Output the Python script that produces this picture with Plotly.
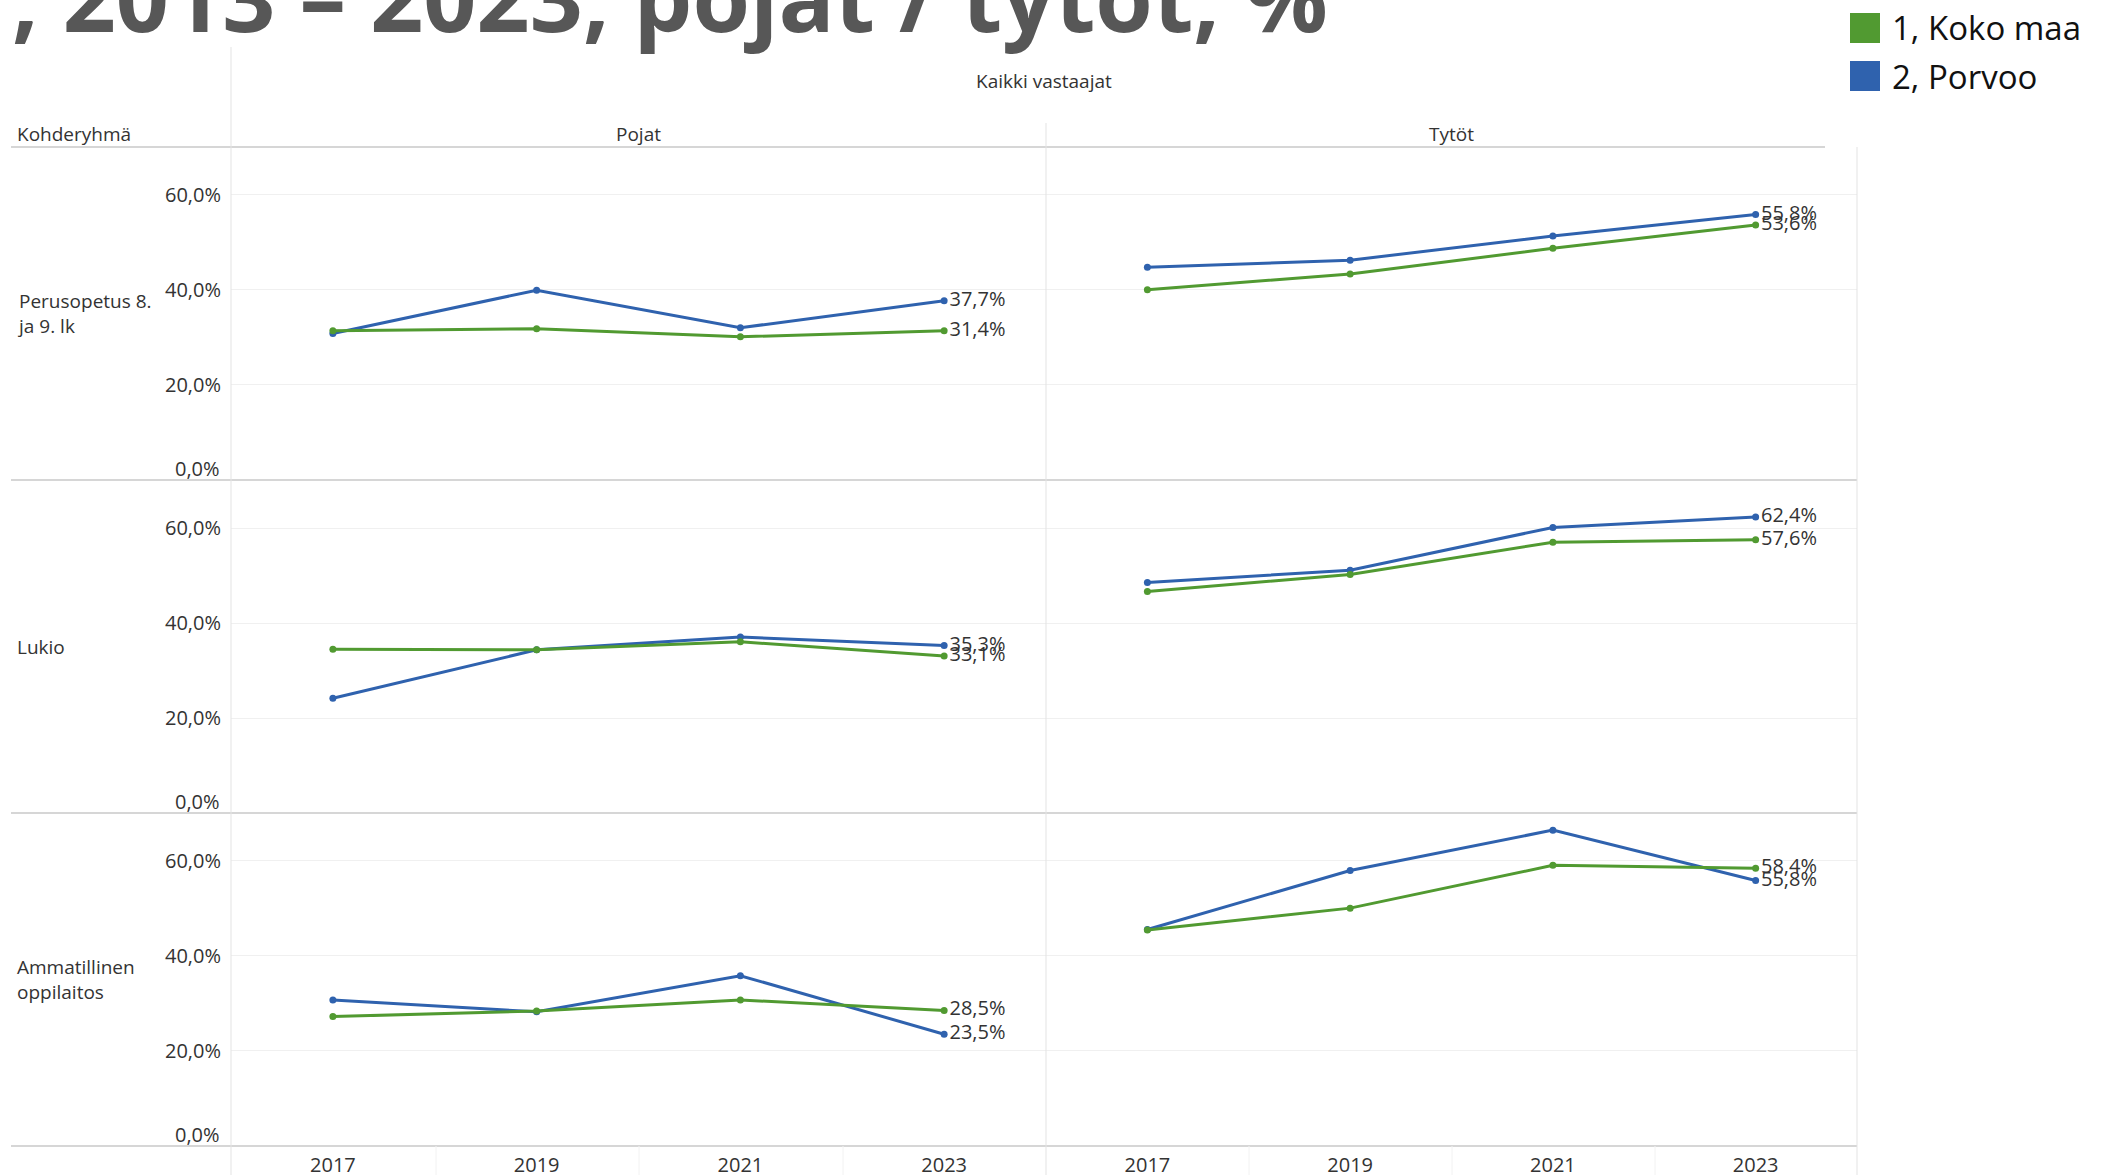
import plotly.graph_objects as go

W, H = 2108, 1175

years = ["2017", "2019", "2021", "2023"]
groups = ["Perusopetus 8.<br>ja 9. lk", "Lukio", "Ammatillinen<br>oppilaitos"]
genders = ["Pojat", "Tytöt"]
series_names = ["1, Koko maa", "2, Porvoo"]
y_ticks = [20, 40, 60]

# 1, Koko maa
koko_perus_pojat = [31.4, 31.8, 30.1, 31.4]
koko_perus_tytot = [40.0, 43.3, 48.7, 53.6]
koko_lukio_pojat = [34.5, 34.4, 36.1, 33.1]
koko_lukio_tytot = [46.7, 50.3, 57.1, 57.6]
koko_amm_pojat = [27.2, 28.4, 30.7, 28.5]
koko_amm_tytot = [45.4, 50.0, 59.0, 58.4]

# 2, Porvoo
porvoo_perus_pojat = [30.8, 39.9, 32.0, 37.7]
porvoo_perus_tytot = [44.7, 46.2, 51.3, 55.8]
porvoo_lukio_pojat = [24.2, 34.4, 37.1, 35.3]
porvoo_lukio_tytot = [48.6, 51.2, 60.2, 62.4]
porvoo_amm_pojat = [30.7, 28.2, 35.8, 23.5]
porvoo_amm_tytot = [45.5, 57.9, 66.4, 55.8]

koko = [[koko_perus_pojat, koko_perus_tytot],
        [koko_lukio_pojat, koko_lukio_tytot],
        [koko_amm_pojat, koko_amm_tytot]]
porvoo = [[porvoo_perus_pojat, porvoo_perus_tytot],
          [porvoo_lukio_pojat, porvoo_lukio_tytot],
          [porvoo_amm_pojat, porvoo_amm_tytot]]

GREEN = "#519a31"
BLUE = "#2f62ae"
FONT = "Open Sans"
TXT = "#333333"


def px(x):
    return x / W


def py(y):
    return 1 - y / H


def pct(v):
    return f"{v:.1f}%".replace(".", ",")


# panel geometry in pixels
col_edges = [(231, 1046), (1046, 1857)]
row_edges = [(147, 480), (481, 813), (813, 1146)]

fig = go.Figure()
layout = {}
annotations = []
shapes = []

for r in range(3):
    for c in range(2):
        i = r * 2 + c + 1
        xa = "x" if i == 1 else f"x{i}"
        ya = "y" if i == 1 else f"y{i}"
        # blue first so green is drawn on top
        for vals, color in [(porvoo[r][c], BLUE), (koko[r][c], GREEN)]:
            fig.add_trace(go.Scatter(
                x=years, y=vals, xaxis=xa, yaxis=ya,
                mode="lines+markers+text",
                line=dict(color=color, width=3),
                marker=dict(color=color, size=7),
                text=["", "", "", pct(vals[-1])],
                textposition="middle right",
                textfont=dict(family=FONT, size=20, color=TXT),
                cliponaxis=False, showlegend=False,
                hoverinfo="x+y",
            ))
        x0, x1 = col_edges[c]
        y0, y1 = row_edges[r]
        layout[f"xaxis{i}"] = dict(
            domain=[px(x0), px(x1)], anchor=ya, type="category",
            range=[-0.5, 3.5], showgrid=False, zeroline=False,
            showline=False, showticklabels=(r == 2), ticks="",
            ticklabelstandoff=5, automargin=False,
            tickfont=dict(family=FONT, size=20, color=TXT),
        )
        layout[f"yaxis{i}"] = dict(
            domain=[py(y1), py(y0)], anchor=xa, range=[0, 70],
            tickvals=y_ticks, ticktext=[pct(v) for v in y_ticks],
            showticklabels=(c == 0), ticks="", ticklabelstandoff=9,
            automargin=False,
            showgrid=True, gridcolor="#f0f0f0", gridwidth=1,
            zeroline=False, showline=False,
            tickfont=dict(family=FONT, size=20, color=TXT),
        )
        if c == 0:
            annotations.append(dict(
                text=pct(0), xref=f"{xa} domain", x=0, xanchor="right",
                xshift=-9, yref=ya, y=0, yanchor="bottom", yshift=-4,
                showarrow=False, font=dict(family=FONT, size=20, color=TXT),
            ))
    annotations.append(dict(
        text=groups[r], xref="paper", x=px(15), xanchor="left",
        yref="paper", y=py((row_edges[r][0] + row_edges[r][1]) / 2),
        yanchor="middle", align="left", showarrow=False,
        font=dict(family=FONT, size=19, color=TXT),
    ))

# header texts
annotations += [
    dict(text="Kaikki vastaajat", x=px(1044), y=py(81)),
    dict(text=genders[0], x=px(638), y=py(134)),
    dict(text=genders[1], x=px(1451), y=py(134)),
    dict(text="Kohderyhmä", x=px(15), y=py(134), xanchor="left"),
]
for a in annotations[-4:]:
    a.update(xref="paper", yref="paper", showarrow=False, yanchor="middle",
             font=dict(family=FONT, size=19, color=TXT))
    a.setdefault("xanchor", "center")

# title (partly cut off at the top of the image)
annotations.append(dict(
    text=", 2013 – 2023, pojat / tytöt, %", xref="paper", yref="paper",
    x=px(1330), xanchor="right", y=py(61), yanchor="bottom",
    showarrow=False, font=dict(family=FONT, size=93, color="#575757", weight="bold"),
))

# legend
for k, (name, color) in enumerate([(series_names[0], GREEN), (series_names[1], BLUE)]):
    top = 13 + k * 48
    shapes.append(dict(type="rect", xref="paper", yref="paper",
                       x0=px(1850), x1=px(1880), y0=py(top + 30), y1=py(top),
                       fillcolor=color, line=dict(width=0)))
    annotations.append(dict(
        text=name, xref="paper", yref="paper", x=px(1890), xanchor="left",
        y=py(top + 15), yanchor="middle", showarrow=False,
        font=dict(family=FONT, size=33, color="#111111"),
    ))

# table lines
SEP = "#d6d6d6"
VL = "#e3e3e3"
shapes.append(dict(type="line", xref="paper", yref="paper",
                   x0=px(11), x1=px(1825), y0=py(147), y1=py(147),
                   line=dict(color=SEP, width=2)))
for y in [480, 813, 1146]:
    shapes.append(dict(type="line", xref="paper", yref="paper",
                       x0=px(11), x1=px(1857), y0=py(y), y1=py(y),
                       line=dict(color=SEP, width=2)))
for x, ytop in [(231, 47), (1046, 123), (1857, 147)]:
    shapes.append(dict(type="line", xref="paper", yref="paper",
                       x0=px(x), x1=px(x), y0=py(ytop), y1=0,
                       line=dict(color=VL, width=1)))
for x in [436, 639, 843, 1249, 1452, 1655]:
    shapes.append(dict(type="line", xref="paper", yref="paper",
                       x0=px(x), x1=px(x), y0=py(1146), y1=0,
                       line=dict(color="#f2f2f2", width=1)))

fig.update_layout(
    width=W, height=H,
    margin=dict(l=0, r=0, t=0, b=0),
    paper_bgcolor="white", plot_bgcolor="white",
    annotations=annotations, shapes=shapes,
    font=dict(family=FONT, color=TXT),
    **layout,
)

# drop the default page margin so the figure sits at the window's corner
fig.write_html("out.html", config={"displayModeBar": False},
               post_script="document.body.style.margin='0';"
                           "document.body.style.overflow='hidden';")
